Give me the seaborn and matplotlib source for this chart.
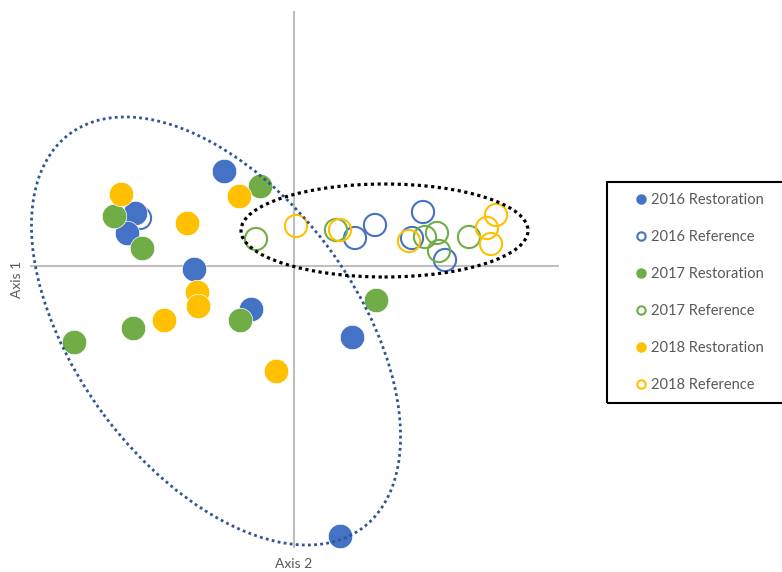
import numpy as np
import pandas as pd
import matplotlib.pyplot as plt
import seaborn as sns
from matplotlib.patches import Ellipse, Rectangle
from matplotlib.lines import Line2D

sns.set_style('white')
plt.rcParams['font.family'] = ['Lato', 'DejaVu Sans']

# ordination scores
x_2016_rest = [-0.70, -1.59, -1.67, -1.00, -0.43, 0.58, 0.46]
y_2016_rest = [0.95, 0.53, 0.33, -0.03, -0.43, -0.71, -2.70]
x_2016_ref = [-1.54, 0.61, 0.81, 1.29, 1.18, 1.51]
y_2016_ref = [0.48, 0.28, 0.41, 0.54, 0.28, 0.06]
x_2017_rest = [-0.34, -1.80, -1.52, -2.20, -1.61, -0.54, 0.82]
y_2017_rest = [0.80, 0.50, 0.18, -0.76, -0.62, -0.54, -0.34]
x_2017_ref = [-0.38, 0.42, 1.31, 1.43, 1.45, 1.75]
y_2017_ref = [0.27, 0.36, 0.29, 0.33, 0.15, 0.29]
x_2018_rest = [-1.73, -0.55, -1.07, -0.97, -0.96, -1.30, -0.18]
y_2018_rest = [0.72, 0.70, 0.43, -0.26, -0.40, -0.54, -1.05]
x_2018_ref = [0.02, 0.46, 1.15, 2.02, 1.93, 1.97]
y_2018_ref = [0.40, 0.36, 0.25, 0.51, 0.38, 0.22]

labels = ['2016 Restoration', '2016 Reference', '2017 Restoration',
          '2017 Reference', '2018 Restoration', '2018 Reference']
colors = ['#4472C4', '#4472C4', '#70AD47', '#70AD47', '#FFC000', '#FFC000']
filled = [True, False, True, False, True, False]
xs = [x_2016_rest, x_2016_ref, x_2017_rest, x_2017_ref, x_2018_rest, x_2018_ref]
ys = [y_2016_rest, y_2016_ref, y_2017_rest, y_2017_ref, y_2018_rest, y_2018_ref]

fig = plt.figure(figsize=(7.82, 5.72), dpi=100)
ax = fig.add_axes([30 / 782, 24 / 572, 529 / 782, 537 / 572])

ax.axhline(0, color='#BFBFBF', lw=1.5, zorder=1)
ax.axvline(0, color='#BFBFBF', lw=1.5, zorder=1)

# open markers first, filled ones on top
for i in [1, 3, 5, 0, 2, 4]:
    df = pd.DataFrame({'x': xs[i], 'y': ys[i]})
    if filled[i]:
        sns.scatterplot(data=df, x='x', y='y', color=colors[i], s=310,
                        edgecolor='white', linewidth=0.5, ax=ax, zorder=3)
    else:
        sns.scatterplot(data=df, x='x', y='y', facecolor='none', edgecolor=colors[i],
                        s=255, linewidth=1.5, ax=ax, zorder=2)

# group outlines
ax.add_patch(Ellipse((-0.78, -0.65), 4.91, 2.80, angle=-53.4, fill=False,
                     edgecolor='#2F5597', lw=2.0, linestyle=(0, (1, 1.2)), zorder=4))
ax.add_patch(Ellipse((0.905, 0.355), 2.87, 0.93, angle=0, fill=False,
                     edgecolor='black', lw=2.3, linestyle=(0, (1, 1.1)), zorder=4))

ax.set_xlim(-2.64, 2.65)
ax.set_ylim(-2.82, 2.55)
ax.set_xticks([])
ax.set_yticks([])
for sp in ax.spines.values():
    sp.set_visible(False)
ax.set_xlabel('')
ax.set_ylabel('')

fig.text(294 / 782, 1 - 564 / 572, 'Axis 2', ha='center', va='center', fontsize=10, color='#595959')
fig.text(17 / 782, 1 - 279 / 572, 'Axis 1', ha='center', va='center', rotation=90,
         fontsize=10, color='#595959')

# legend box
fig.patches.append(Rectangle((607 / 782, 1 - 403 / 572), 0.3, 221 / 572, transform=fig.transFigure,
                             fill=False, edgecolor='black', lw=1.5))
handles = []
for i in range(6):
    handles.append(Line2D([], [], marker='o', linestyle='none', markersize=6,
                          markerfacecolor=colors[i] if filled[i] else 'none',
                          markeredgecolor=colors[i], markeredgewidth=1.5))
fig.legend(handles, labels, loc='upper left', bbox_to_anchor=(635 / 782, 1 - 193 / 572),
           frameon=False, fontsize=10.5, labelspacing=1.58, handlelength=0.8,
           handletextpad=0.3, borderpad=0, borderaxespad=0, labelcolor='#595959')

plt.savefig('out.png', dpi=100)
